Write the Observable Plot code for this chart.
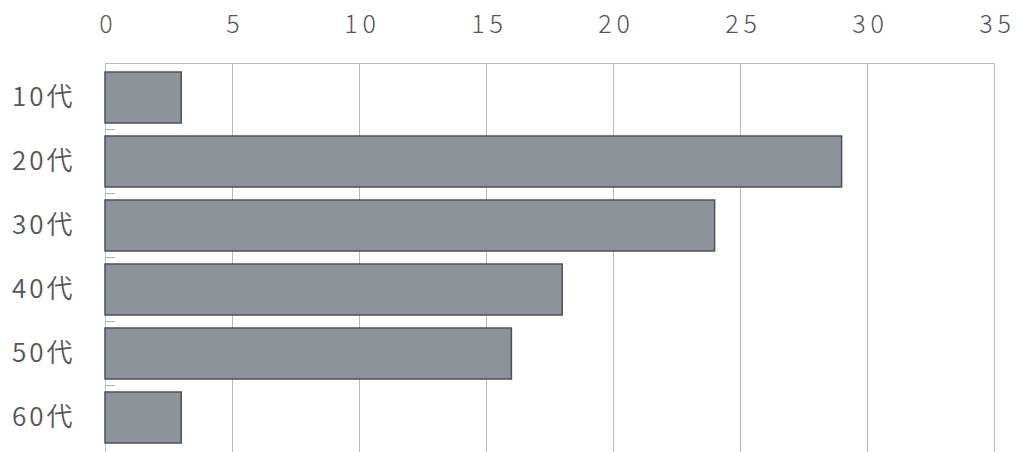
<!DOCTYPE html>
<html>
<head>
<meta charset="utf-8">
<script src="https://cdn.jsdelivr.net/npm/d3@7"></script>
<script src="https://cdn.jsdelivr.net/npm/@observablehq/plot@0.6"></script>
<style>
  html, body { margin: 0; padding: 0; background: #fff; overflow: hidden; }
  #chart svg { display: block; }
</style>
</head>
<body>
<div id="chart"></div>
<script>
const categories = ["10代", "20代", "30代", "40代", "50代", "60代"];
const values = [3, 29, 24, 18, 16, 3];
const xTicks = [0, 5, 10, 15, 20, 25, 30, 35];

const data = categories.map((c, i) => ({category: c, value: values[i]}));

const chart = Plot.plot({
  width: 1017,
  height: 452,
  marginLeft: 105,
  marginRight: 23,
  marginTop: 63,
  marginBottom: 0,
  style: {fontFamily: "'Noto Sans CJK JP', sans-serif", color: "#555", background: "#fff"},
  x: {domain: [0, 35], ticks: xTicks},
  y: {domain: categories, padding: 0.2, paddingOuter: 0.1, align: 0.5},
  marks: [
    Plot.ruleX(xTicks, {stroke: "#bbb", strokeWidth: 1}),
    Plot.frame({anchor: "top", stroke: "#bbb"}),
    Plot.ruleY(categories.slice(1), {y: d => d, x1: 0, x2: 0.4, dy: -32.5, stroke: "#aaa"}),
    Plot.barX(data, {y: "category", x: "value", fill: "#8d939a", stroke: "#4b5158", strokeWidth: 1.5}),
    Plot.axisX({anchor: "top", ticks: xTicks, tickSize: 0, tickPadding: 31, dx: 3, fontSize: 25, fontWeight: 300, label: null, fill: "#555"}),
    Plot.axisY({anchor: "left", tickSize: 0, tickPadding: 30, fontSize: 26, fontWeight: 350, label: null, fill: "#555"})
  ]
});
chart.querySelectorAll("text").forEach(t => t.setAttribute("letter-spacing", "3"));
chart.querySelectorAll('g[aria-label="x-axis tick label"]').forEach(g => {
  g.setAttribute("font-size", "25");
  g.style.fontSize = "25px";
  g.querySelectorAll("text").forEach(t => t.setAttribute("letter-spacing", "5"));
});
document.getElementById("chart").appendChild(chart);
</script>
</body>
</html>
